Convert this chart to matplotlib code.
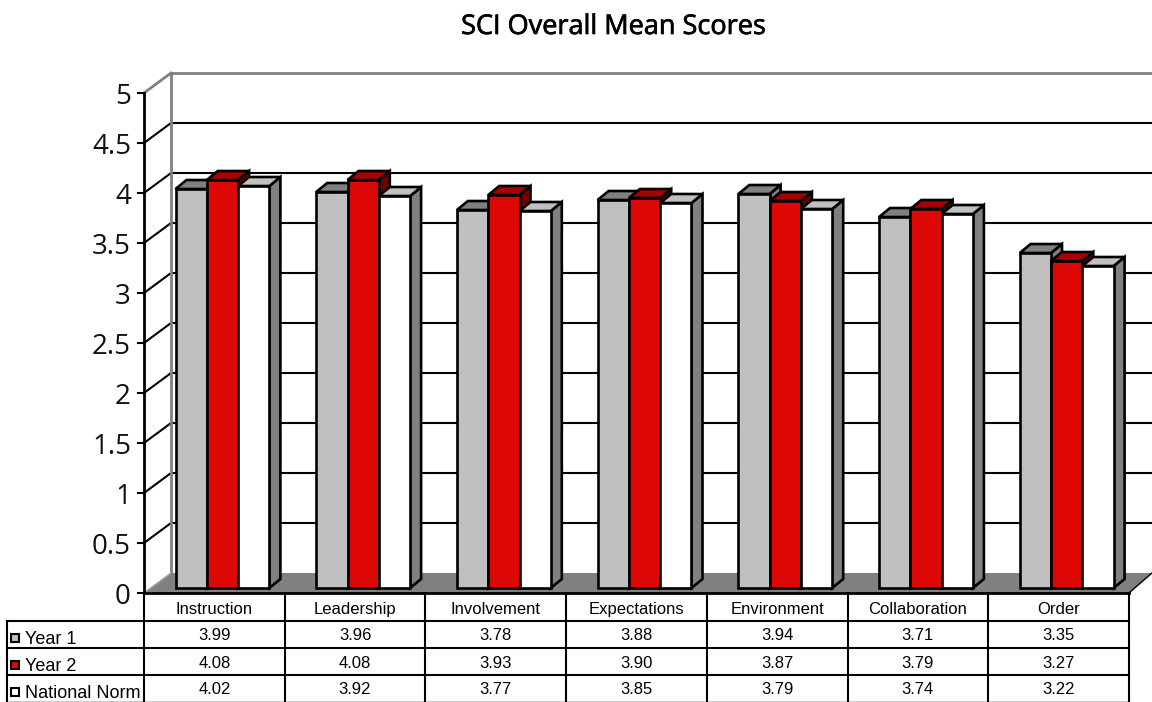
import matplotlib
matplotlib.use("Agg")
import numpy as np
import matplotlib.pyplot as plt
import matplotlib.patheffects as pe

categories = ["Instruction", "Leadership", "Involvement", "Expectations",
              "Environment", "Collaboration", "Order"]
series_names = ["Year 1", "Year 2", "National Norm"]
year1 = [3.99, 3.96, 3.78, 3.88, 3.94, 3.71, 3.35]
year2 = [4.08, 4.08, 3.93, 3.90, 3.87, 3.79, 3.27]
norm = [4.02, 3.92, 3.77, 3.85, 3.79, 3.74, 3.22]
yticks = [0, 0.5, 1, 1.5, 2, 2.5, 3, 3.5, 4, 4.5, 5]
ytick_labels = ["0", "0.5", "1", "1.5", "2", "2.5", "3", "3.5", "4", "4.5", "5"]

# colours per series: front, top, side
face_colors = ["#c0c0c0", "#dd0806", "#ffffff"]
top_colors = ["#808080", "#a80000", "#c0c0c0"]
side_colors = ["#808080", "#6e0000", "#808080"]

# one px = 1/col_px category, 1/100 value
col_px = 140.7
px = 1 / col_px
wall_dx = 27 * px
wall_dy = 0.2
bar_dx = 11 * px
bar_dy = 0.09
bar_w = 31.3 * px
bar_start = 31.5 * px
bar_lift = 0.05
lw = 1.5
bar_lw = 1.9

fig = plt.figure(figsize=(11.52, 7.02), dpi=100)
ax = fig.add_axes([0, 0, 1, 1])
ax.set_xlim(-144 * px, 1008 * px)
ax.set_ylim(-1.09, 5.93)
ax.axis("off")

n = len(categories)
x_right = 1008 * px

# floor
ax.fill([0, wall_dx, x_right, n], [0, wall_dy, wall_dy, 0], color="#808080", lw=0, zorder=1)

# wall grid
for v in yticks[1:-1]:
    ax.plot([wall_dx, x_right], [v + wall_dy, v + wall_dy], color="black", lw=lw, zorder=1, solid_capstyle="butt")
    ax.plot([0, wall_dx], [v, v + wall_dy], color="black", lw=lw, zorder=1)
ax.plot([wall_dx, x_right], [5 + wall_dy, 5 + wall_dy], color="#808080", lw=2, zorder=1)
ax.plot([0, wall_dx], [5, 5 + wall_dy], color="#808080", lw=2, zorder=1)
ax.plot([wall_dx, wall_dx], [wall_dy, 5 + wall_dy], color="#808080", lw=2, zorder=1)
ax.plot([0, wall_dx], [0, wall_dy], color="#a0a0a0", lw=1, zorder=1)
ax.plot([n, x_right], [0, wall_dy], color="black", lw=1, zorder=1)

# y axis
ax.plot([0, 0], [0, 5], color="black", lw=2, zorder=2)
for v, lab in zip(yticks, ytick_labels):
    ax.plot([-6 * px, 0], [v, v], color="black", lw=lw, zorder=2)
    ax.text(-13 * px, v - 0.01, lab, ha="right", va="center_baseline", fontsize=20, family="Open Sans", color="#111111")

# bars
z = 3
for i in range(n):
    for s, vals in enumerate([year1, year2, norm]):
        x0 = i + bar_start + s * bar_w
        x1 = x0 + bar_w
        top = vals[i] + bar_lift
        ax.fill([x1, x1 + bar_dx, x1 + bar_dx, x1], [bar_lift, bar_lift + bar_dy, top + bar_dy, top],
                facecolor=side_colors[s], edgecolor="black", lw=bar_lw, zorder=z)
        ax.fill([x0, x0 + bar_dx, x1 + bar_dx, x1], [top, top + bar_dy, top + bar_dy, top],
                facecolor=top_colors[s], edgecolor="black", lw=bar_lw, zorder=z)
        ax.bar(x0, vals[i], width=bar_w, bottom=bar_lift, align="edge",
               facecolor=face_colors[s], edgecolor="black", lw=bar_lw, zorder=z + 1)
        z += 2

# data table
row_edges = [0, -0.28, -0.55, -0.82, -1.09]
left = -137 * px
ax.plot([0, n], [0, 0], color="black", lw=2, zorder=50)
for r, y in enumerate(row_edges[1:]):
    ax.plot([left, n], [y, y], color="black" if r < 3 else "#cccccc", lw=lw, zorder=50)
ax.plot([left, left], [row_edges[1], row_edges[-1]], color="black", lw=lw, zorder=50)
for i in range(n + 1):
    ax.plot([i, i], [0, row_edges[-1]], color="black", lw=lw, zorder=50)

for i, c in enumerate(categories):
    ax.text(i + 0.5, -0.15, c, ha="center", va="center_baseline", fontsize=12, family="Liberation Sans")
for r, vals in enumerate([year1, year2, norm]):
    yc = (row_edges[r + 1] + row_edges[r + 2]) / 2
    for i, v in enumerate(vals):
        ax.text(i + 0.5, yc, f"{v:.2f}", ha="center", va="center_baseline", fontsize=12, family="Liberation Sans")
    ax.text(-119 * px, yc - 0.03, series_names[r], ha="left", va="center_baseline", fontsize=13, family="Liberation Sans")
    ax.plot([-129 * px], [yc - 0.03], marker="s", ms=5.5, mfc=face_colors[r], mec="black", mew=1.5, zorder=51)

title = fig.text(614 / 1152, 1 - 27 / 702, "SCI Overall Mean Scores", ha="center", va="center",
                 fontsize=19.5, family="Open Sans", color="black")
title.set_path_effects([pe.withStroke(linewidth=0.5, foreground="black")])

fig.savefig("out.png", dpi=100, facecolor="white")
